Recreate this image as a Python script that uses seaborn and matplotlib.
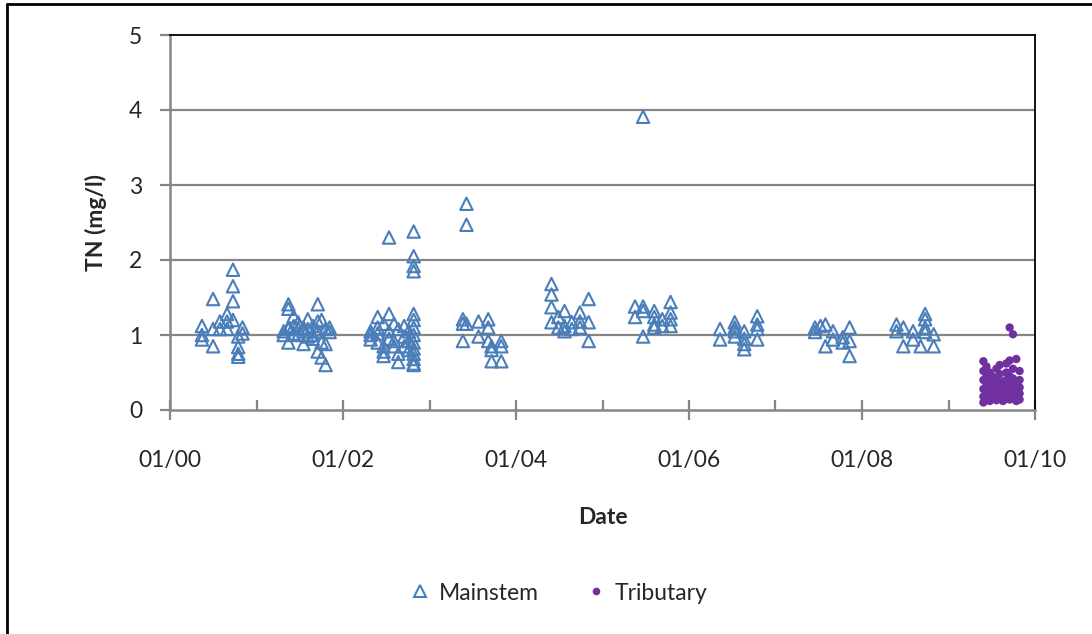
import matplotlib
matplotlib.use("Agg")
import matplotlib.pyplot as plt
import matplotlib.dates as mdates
from matplotlib.lines import Line2D
import pandas as pd
import seaborn as sns

# ── Data ──────────────────────────────────────────────────────────────────────
ms_dates = [
    "2000-05-15", "2000-07-01", "2000-07-30", "2000-08-29", "2000-09-23", "2000-10-15", "2000-11-02",
    "2001-04-25", "2001-05-15", "2001-06-06", "2001-06-25", "2001-07-18", "2001-08-05", "2001-08-26",
    "2001-09-16", "2001-10-02", "2001-10-19", "2001-11-05",
    "2002-04-27", "2002-05-27", "2002-06-21", "2002-07-14", "2002-08-04", "2002-08-22", "2002-09-16",
    "2002-10-05", "2002-10-26",
    "2003-05-22", "2003-06-06", "2003-07-27", "2003-09-06", "2003-09-20", "2003-10-31",
    "2004-05-30", "2004-06-28", "2004-07-24", "2004-08-24", "2004-09-27", "2004-11-03",
    "2005-05-18", "2005-06-21", "2005-08-07", "2005-09-10", "2005-10-15",
    "2006-05-12", "2006-07-13", "2006-08-22", "2006-10-16",
    "2007-06-17", "2007-07-10", "2007-07-31", "2007-09-01", "2007-10-12", "2007-11-10",
    "2008-05-26", "2008-06-24", "2008-08-04", "2008-09-05", "2008-09-24", "2008-10-30",
]
ms_tn = [
    [1.12, 1.00, 0.94], [1.48, 1.08, 0.85], [1.18, 1.08], [1.28, 1.18, 1.08], [1.87, 1.65, 1.45, 1.20],
    [0.84, 0.75, 0.71, 0.98], [1.10, 1.02],
    [1.05, 1.00], [1.41, 1.35, 1.10, 0.90, 1.08], [1.25, 1.12, 1.02], [1.17, 1.08, 1.00], [0.88, 1.05, 1.10],
    [1.21, 1.08, 0.98], [1.12, 1.00, 0.95], [1.41, 1.18, 1.05, 0.78], [1.20, 0.90, 0.70],
    [1.08, 0.88, 0.60], [1.10, 1.04],
    [0.94, 1.00, 1.05], [1.24, 1.10, 1.02, 0.90], [1.15, 0.85, 0.78, 0.72], [2.30, 1.28, 1.05, 0.95],
    [1.15, 0.92, 0.85], [1.08, 0.75, 0.64], [1.12, 0.98, 0.85], [1.05, 0.92, 0.80],
    [2.38, 2.05, 1.92, 1.85, 1.28, 1.20, 1.10, 1.00, 0.90, 0.82, 0.75, 0.68, 0.62, 0.60],
    [1.21, 1.15, 0.92], [2.75, 2.47, 1.15], [1.18, 0.98], [1.21, 1.10, 0.92], [0.85, 0.65, 0.80],
    [0.92, 0.85, 0.65],
    [1.68, 1.54, 1.37, 1.17], [1.24, 1.10], [1.32, 1.12, 1.05], [1.08, 1.17], [1.30, 1.18, 1.10],
    [1.48, 1.17, 0.92],
    [1.38, 1.24], [3.91, 1.38, 1.32, 0.98], [1.32, 1.24, 1.14, 1.10], [1.21, 1.12], [1.44, 1.30, 1.21, 1.12],
    [1.08, 0.94], [1.17, 1.10, 1.05, 0.98], [1.05, 0.88, 0.81, 0.95], [1.25, 1.14, 1.08, 0.94],
    [1.10, 1.04], [1.12], [1.14, 0.85], [1.05, 0.94], [0.97, 0.90], [1.10, 0.92, 0.72],
    [1.14, 1.05], [1.10, 0.85], [1.05, 0.94], [0.85], [1.28, 1.21, 1.10, 1.04], [1.01, 0.85],
]

trib_dates = [
    "2009-05-28", "2009-06-10", "2009-06-24", "2009-07-08", "2009-07-22", "2009-08-05",
    "2009-08-19", "2009-09-02", "2009-09-16", "2009-09-30", "2009-10-14", "2009-10-28",
]
trib_tn = [
    [0.65, 0.52, 0.40, 0.28, 0.18, 0.10],
    [0.58, 0.45, 0.33, 0.22, 0.14],
    [0.50, 0.38, 0.30, 0.20, 0.12],
    [0.44, 0.35, 0.25, 0.16],
    [0.55, 0.42, 0.30, 0.22, 0.13],
    [0.60, 0.48, 0.36, 0.27, 0.17],
    [0.38, 0.30, 0.20, 0.12],
    [0.62, 0.50, 0.40, 0.26, 0.15],
    [1.10, 0.66, 0.45, 0.33, 0.22, 0.14],
    [1.01, 0.55, 0.42, 0.30, 0.19],
    [0.68, 0.38, 0.28, 0.20, 0.12],
    [0.52, 0.40, 0.30, 0.22, 0.14],
]

# ── Style ─────────────────────────────────────────────────────────────────────
sns.set_theme(style="white")
plt.rcParams["font.family"] = ["Lato", "DejaVu Sans"]
BLUE   = "#4A7EBB"
PURPLE = "#7030A0"
GRID   = "#868686"
FS     = 16.5

ms = pd.DataFrame({"date": ms_dates, "tn": ms_tn}).explode("tn")
ms["date"] = pd.to_datetime(ms["date"])
ms["tn"] = ms["tn"].astype(float)
tr = pd.DataFrame({"date": trib_dates, "tn": trib_tn}).explode("tn")
tr["date"] = pd.to_datetime(tr["date"])
tr["tn"] = tr["tn"].astype(float)

fig = plt.figure(figsize=(10.92, 6.34), dpi=100)
ax = fig.add_axes([170 / 1092, 1 - 410 / 634, 865 / 1092, 375 / 634])

for y in [1, 2, 3, 4]:
    ax.axhline(y, color=GRID, lw=1.6, zorder=0)

sns.scatterplot(data=ms, x="date", y="tn", ax=ax, marker="^", s=80,
                facecolors="none", edgecolor=BLUE, linewidth=1.5, zorder=3)
sns.scatterplot(data=tr, x="date", y="tn", ax=ax, marker="o", s=36,
                color=PURPLE, edgecolor="none", zorder=4)

ax.set_xlim(pd.Timestamp("2000-01-01"), pd.Timestamp("2010-01-01"))
ax.set_ylim(0, 5)
ax.set_yticks([0, 1, 2, 3, 4, 5])
ax.xaxis.set_major_locator(mdates.YearLocator(2))
ax.xaxis.set_minor_locator(mdates.YearLocator(1))
ax.xaxis.set_major_formatter(mdates.DateFormatter("%m/%y"))

ax.tick_params(axis="y", which="major", direction="out", length=7, width=1.6,
               color=GRID, labelsize=FS, pad=13, left=True)
ax.tick_params(axis="x", which="major", direction="inout", length=14, width=1.6,
               color=GRID, labelsize=FS, pad=22, bottom=True)
ax.tick_params(axis="x", which="minor", direction="in", length=7, width=1.6,
               color=GRID, bottom=True)

for side in ["left", "bottom"]:
    ax.spines[side].set_color(GRID)
    ax.spines[side].set_linewidth(1.8)
for side in ["top", "right"]:
    ax.spines[side].set_color("black")
    ax.spines[side].set_linewidth(1.3)

ax.set_ylabel("TN (mg/l)", fontsize=FS, fontweight="bold", labelpad=16)
ax.set_xlabel("Date", fontsize=FS, fontweight="bold", labelpad=26)

handles = [
    Line2D([], [], marker="^", ls="none", markersize=8, markerfacecolor="none",
           markeredgecolor=BLUE, markeredgewidth=1.5, label="Mainstem"),
    Line2D([], [], marker="o", ls="none", markersize=5.5, markerfacecolor=PURPLE,
           markeredgecolor="none", label="Tributary"),
]
fig.legend(handles=handles, loc="center", bbox_to_anchor=(558 / 1092, 1 - 593 / 634),
           ncol=2, frameon=False, fontsize=FS, handletextpad=0.3, columnspacing=2.0,
           handlelength=1.0)

# outer chart frame (only left and top edges fall inside the crop)
fig.add_artist(Line2D([7 / 1092, 7 / 1092], [0, 1 - 4 / 634], color="black", lw=2,
                      transform=fig.transFigure))
fig.add_artist(Line2D([7 / 1092, 1.0], [1 - 4 / 634, 1 - 4 / 634], color="black", lw=2,
                      transform=fig.transFigure))

fig.savefig("out.png", dpi=100)
plt.close()
